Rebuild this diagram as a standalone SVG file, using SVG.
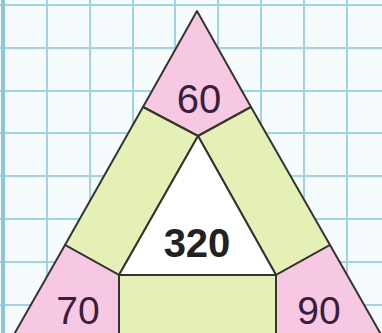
<svg xmlns="http://www.w3.org/2000/svg" width="382" height="333" viewBox="0 0 382 333">
<defs>
<style>
.grid line{stroke:#9fd3e8;stroke-width:2}
.pink{fill:#f7c8e2;stroke:#353530;stroke-width:2;stroke-linejoin:round}
.green{fill:#e4f0b6;stroke:#353530;stroke-width:2;stroke-linejoin:round}
.white{fill:#ffffff;stroke:#353530;stroke-width:2;stroke-linejoin:round}
.num{font-family:"Liberation Sans",Arial,sans-serif;font-size:40px;fill:#3a1f3c;text-anchor:middle}
.big{font-family:"Liberation Sans",Arial,sans-serif;font-size:40px;font-weight:bold;fill:#222;text-anchor:middle}
</style>
</defs>
<rect width="382" height="333" fill="#f6fcfe"/>
<g class="grid">
<line x1="47" y1="0" x2="47" y2="333"/>
<line x1="90" y1="0" x2="90" y2="333"/>
<line x1="133" y1="0" x2="133" y2="333"/>
<line x1="175" y1="0" x2="175" y2="333"/>
<line x1="218" y1="0" x2="218" y2="333"/>
<line x1="261" y1="0" x2="261" y2="333"/>
<line x1="304" y1="0" x2="304" y2="333"/>
<line x1="347" y1="0" x2="347" y2="333"/>
<line x1="0" y1="5" x2="382" y2="5"/>
<line x1="0" y1="48" x2="382" y2="48"/>
<line x1="0" y1="91" x2="382" y2="91"/>
<line x1="0" y1="133" x2="382" y2="133"/>
<line x1="0" y1="176" x2="382" y2="176"/>
<line x1="0" y1="219" x2="382" y2="219"/>
<line x1="0" y1="262" x2="382" y2="262"/>
<line x1="0" y1="305" x2="382" y2="305"/>
<line x1="3" y1="0" x2="3" y2="333" style="stroke:#8cc6dc;stroke-width:4"/>
</g>
<g id="top-pink">
<polygon class="pink" points="197,11 143,107 198,136 251,107"/>
<text class="num" x="199" y="113">60</text>
</g>
<g id="left-green">
<polygon class="green" points="143,107 198,136 119,275 65,245"/>
</g>
<g id="right-green">
<polygon class="green" points="251,107 198,136 276,275 330,245"/>
</g>
<g id="center">
<polygon class="white" points="198,136 119,275 276,275"/>
<text class="big" x="197" y="257">320</text>
</g>
<g id="left-pink">
<polygon class="pink" points="65,245 119,275 119,345 8,345"/>
<text class="num" x="78" y="324" style="font-size:39px">70</text>
</g>
<g id="right-pink">
<polygon class="pink" points="330,245 276,275 276,345 387,345"/>
<text class="num" x="319" y="324" style="font-size:39px">90</text>
</g>
<g id="bottom-green">
<polygon class="green" points="119,275 276,275 276,345 119,345"/>
</g>
</svg>
